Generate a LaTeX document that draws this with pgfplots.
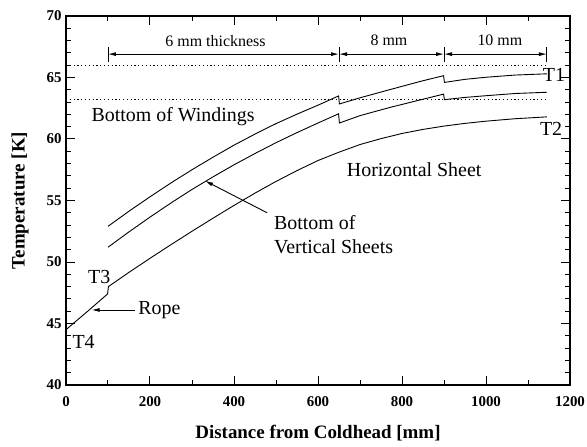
\documentclass[border=0pt]{standalone}
\usepackage{fontspec}
\setmainfont{Liberation Serif}
\usepackage{pgfplots}
\pgfplotsset{compat=1.18}
\usetikzlibrary{arrows.meta}
\begin{document}
\begin{tikzpicture}
\begin{axis}[name=ax, at={(0,0)}, anchor=south west,
 scale only axis, width=504bp, height=369bp,
 xmin=0, xmax=1200, ymin=40, ymax=70,
 xtick={0,200,...,1200}, ytick={40,45,...,70},
 minor x tick num=1, minor y tick num=4,
 tick align=inside, major tick length=9bp, minor tick length=5bp,
 axis line style={line width=1.3bp},
 every tick/.style={line width=1bp, black},
 ticklabel style={font=\fontsize{15}{15}\selectfont\bfseries},
 /pgf/number format/assume math mode=true, /pgf/number format/1000 sep={},
 xticklabel style={yshift=-8bp},
 yticklabel style={xshift=-1bp},
 xlabel={Distance from Coldhead [mm]}, ylabel={Temperature [K]},
 label style={font=\fontsize{19}{19}\selectfont\bfseries},
 xlabel style={at={(axis description cs:0.5,-0.130)}, anchor=center},
 ylabel style={at={(axis description cs:-0.091,0.5)}, anchor=center},
 clip=false,
]
% dotted reference lines
\addplot[black, line width=0.8bp, dash pattern=on 1.2bp off 2.6bp] coordinates {(0,66.0) (1145,66.0)};
\addplot[black, line width=0.8bp, dash pattern=on 1.2bp off 2.6bp] coordinates {(0,63.2) (1145,63.2)};
% T1 curve (top)
\addplot[black, line width=0.9bp] coordinates {
(100,52.9) (150,54.13) (200,55.3) (250,56.43) (300,57.5) (350,58.52) (400,59.5)
(450,60.4) (500,61.25) (550,62.02) (600,62.75) (649,63.5)
(651,62.85) (700,63.35) (775,64.05) (840,64.65) (899,65.15)
(901,64.6) (950,64.85) (1000,65.02) (1070,65.2) (1145,65.3)};
% middle curve (bottom of vertical sheets)
\addplot[black, line width=0.9bp] coordinates {
(100,51.2) (150,52.45) (200,53.65) (250,54.8) (300,55.9) (350,56.92) (400,57.9)
(450,58.82) (500,59.7) (550,60.52) (600,61.3) (649,62.05)
(651,61.3) (700,61.9) (775,62.6) (840,63.15) (899,63.65)
(901,63.2) (950,63.38) (1000,63.52) (1070,63.7) (1145,63.8)};
% bottom curve (horizontal sheet)
\addplot[black, line width=0.9bp] coordinates {
(0,44.5) (50,45.95) (99,47.4) (101,48.0) (150,49.16) (200,50.3) (250,51.41) (300,52.5)
(350,53.56) (400,54.6) (450,55.6) (500,56.55) (550,57.43) (600,58.25) (650,58.93)
(700,59.55) (750,60.03) (800,60.45) (850,60.78) (900,61.05) (950,61.27)
(1000,61.45) (1070,61.65) (1145,61.8)};
% dimension lines
\draw[{Latex[length=8bp,width=4bp]}-{Latex[length=8bp,width=4bp]}, line width=0.9bp] (axis cs:100,66.9) -- (axis cs:650,66.9);
\draw[{Latex[length=8bp,width=4bp]}-{Latex[length=8bp,width=4bp]}, line width=0.9bp] (axis cs:650,66.9) -- (axis cs:900,66.9);
\draw[{Latex[length=8bp,width=4bp]}-{Latex[length=8bp,width=4bp]}, line width=0.9bp] (axis cs:900,66.9) -- (axis cs:1145,66.9);
\draw[line width=0.9bp] (axis cs:100,66.3) -- (axis cs:100,67.5);
\draw[line width=0.9bp] (axis cs:650,66.3) -- (axis cs:650,67.5);
\draw[line width=0.9bp] (axis cs:900,66.3) -- (axis cs:900,67.5);
\draw[line width=0.9bp] (axis cs:1145,66.3) -- (axis cs:1145,67.5);
\node[font=\fontsize{16}{16}\selectfont, anchor=base] at (axis cs:356,67.55) {6 mm thickness};
\node[font=\fontsize{16}{16}\selectfont, anchor=base] at (axis cs:769,67.6) {8 mm};
\node[font=\fontsize{16}{16}\selectfont, anchor=base] at (axis cs:1033,67.6) {10 mm};
% labels
\node[font=\fontsize{20}{20}\selectfont] at (axis cs:255,61.85) {Bottom of Windings};
\node[font=\fontsize{20}{20}\selectfont] at (axis cs:829,57.5) {Horizontal Sheet};
\node[font=\fontsize{20}{20}\selectfont] at (axis cs:1162,65.2) {T1};
\node[font=\fontsize{20}{20}\selectfont] at (axis cs:1155,60.8) {T2};
\node[font=\fontsize{20}{20}\selectfont] at (axis cs:79,48.8) {T3};
\node[font=\fontsize{20}{20}\selectfont] at (axis cs:42,43.5) {T4};
\node[font=\fontsize{20}{20}\selectfont, anchor=west, inner sep=0pt] at (axis cs:495,53.2) {Bottom of};
\node[font=\fontsize{20}{20}\selectfont, anchor=west, inner sep=0pt] at (axis cs:495,51.25) {Vertical Sheets};
\node[font=\fontsize{20}{20}\selectfont, anchor=west, inner sep=0pt] at (axis cs:172,46.1) {Rope};
\draw[-{Latex[length=8bp,width=4bp]}, line width=0.9bp] (axis cs:479,54.0) -- (axis cs:331,56.6);
\draw[-{Latex[length=8bp,width=4bp]}, line width=0.9bp] (axis cs:164,46.1) -- (axis cs:61,46.1);
\end{axis}
\pgfresetboundingbox
\path[use as bounding box] ([shift={(-66bp,-62bp)}]ax.south west) rectangle ([shift={(17bp,16bp)}]ax.north east);
\end{tikzpicture}
\end{document}
